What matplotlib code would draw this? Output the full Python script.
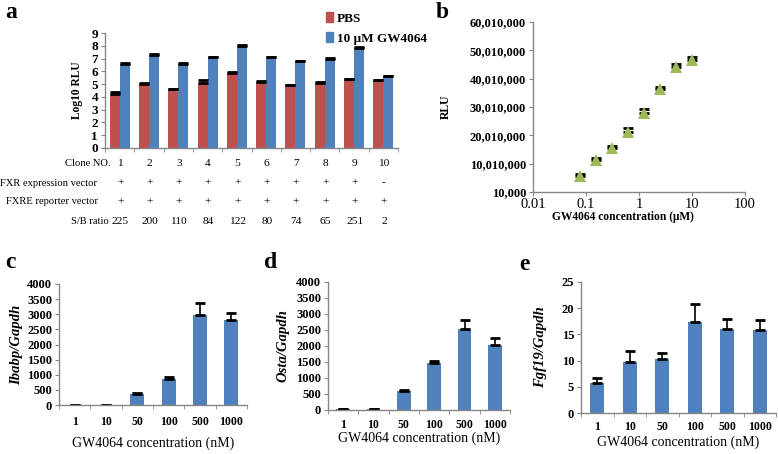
import matplotlib
matplotlib.use("Agg")
import matplotlib.pyplot as plt
import numpy as np
from matplotlib.patches import Patch
import matplotlib.transforms as mtransforms

plt.rcParams['font.family'] = ['Liberation Serif', 'DejaVu Serif']

# ---------------- data ----------------
clones = ['1', '2', '3', '4', '5', '6', '7', '8', '9', '10']
pbs = [4.25, 5.0, 4.6, 5.05, 5.9, 5.2, 4.9, 5.1, 5.4, 5.3]
pbs_err = [0.15, 0.05, 0.05, 0.3, 0.05, 0.05, 0.05, 0.05, 0.03, 0.05]
gw = [6.6, 7.3, 6.6, 7.1, 8.0, 7.1, 6.8, 7.0, 7.85, 5.6]
gw_err = [0.04, 0.04, 0.04, 0.04, 0.03, 0.04, 0.04, 0.04, 0.04, 0.04]
fxr_expr = ['+', '+', '+', '+', '+', '+', '+', '+', '+', '-']
fxre_rep = ['+', '+', '+', '+', '+', '+', '+', '+', '+', '+']
sb_ratio = ['225', '200', '110', '84', '122', '80', '74', '65', '251', '2']

b_conc = [0.078125, 0.15625, 0.3125, 0.625, 1.25, 2.5, 5, 10]
b_rlu = [5.5e6, 11.3e6, 15.5e6, 21.3e6, 28.0e6, 36.3e6, 44.0e6, 46.5e6]
b_err = [0.8e6, 0.8e6, 0.8e6, 1.2e6, 1.2e6, 0.8e6, 1.3e6, 1.3e6]
b_yticks = [10000, 10010000, 20010000, 30010000, 40010000, 50010000, 60010000]

conc_labels = ['1', '10', '50', '100', '500', '1000']
ibabp = [2, 2, 355, 865, 2960, 2800]
ibabp_err = [0, 0, 30, 60, 400, 235]
osta = [30, 20, 595, 1480, 2520, 2030]
osta_err = [5, 5, 30, 60, 280, 230]
fgf19 = [5.8, 9.7, 10.3, 17.3, 16.1, 15.9]
fgf19_err = [0.9, 2.2, 1.1, 3.5, 1.8, 1.8]

RED = '#C0504D'
BLUE = '#4F81BD'
GREEN = '#9BBB59'
SPINE = '#868686'

W, H = 778, 454
fig = plt.figure(figsize=(W / 100, H / 100), dpi=100)


def ax_px(l, r, t, b):
    return fig.add_axes([l / W, 1 - b / H, (r - l) / W, (b - t) / H])


def style(ax):
    for s in ['top', 'right']:
        ax.spines[s].set_visible(False)
    for s in ['left', 'bottom']:
        ax.spines[s].set_color(SPINE)
        ax.spines[s].set_linewidth(1.0)
    ax.tick_params(which='both', color=SPINE, direction='out')


# ---------------- panel a ----------------
axa = ax_px(105, 398, 33, 148)
style(axa)
x = np.arange(len(clones))
bw = 0.34
axa.bar(x - bw / 2, pbs, bw, color=RED, linewidth=0)
axa.bar(x + bw / 2, gw, bw, color=BLUE, linewidth=0)
axa.errorbar(x - bw / 2, pbs, yerr=[np.zeros(len(pbs)), pbs_err], fmt='none',
             ecolor='black', elinewidth=1.2, capsize=3.3, capthick=2)
axa.errorbar(x + bw / 2, gw, yerr=[np.zeros(len(gw)), gw_err], fmt='none',
             ecolor='black', elinewidth=1.2, capsize=3.3, capthick=2)
axa.set_xlim(-0.5, len(clones) - 0.5)
axa.set_ylim(0, 9)
axa.set_yticks(range(0, 10))
axa.set_xticks([])
axa.set_xticks(np.arange(-0.5, len(clones)), minor=True)
axa.tick_params(axis='x', which='minor', length=3)
axa.tick_params(axis='y', length=3, labelsize=9.5, pad=2)
for lbl in axa.get_yticklabels():
    lbl.set_fontweight('bold')
axa.set_ylabel('Log10 RLU', fontsize=8.3, fontweight='bold')
axa.yaxis.set_label_coords(-0.075, 0.5)

trans = mtransforms.blended_transform_factory(axa.transData, fig.transFigure)
rows = [('Clone NO.', clones, 163, 110),
        ('FXR expression vector', fxr_expr, 183, 97),
        ('FXRE reporter vector', fxre_rep, 202, 98),
        ('S/B ratio', sb_ratio, 222, 109)]
for title, vals, ypx, xend in rows:
    fig.text(xend / W, 1 - ypx / H, title, ha='right', va='center', fontsize=7.6)
    for i, v in enumerate(vals):
        fig.text(i + 0.02, 1 - ypx / H, v, transform=trans, ha='center',
                 va='center', fontsize=8.2)

fig.legend(handles=[Patch(color=RED, label='PBS'),
                    Patch(color=BLUE, label='10 \u03bcM GW4064')],
           loc='upper left', bbox_to_anchor=(317 / W, 1 - 3 / H), frameon=False,
           handlelength=0.55, handleheight=0.8, handletextpad=0.25,
           labelspacing=0.55, prop={'size': 9.5, 'weight': 'bold'},
           borderpad=0.2)

# ---------------- panel b ----------------
axb = ax_px(533, 745, 22, 192)
style(axb)
axb.set_xscale('log')
axb.errorbar(b_conc, b_rlu, yerr=[np.zeros(len(b_err)), b_err], fmt='none',
             ecolor='black', elinewidth=1.2, capsize=3.5, capthick=2, zorder=2)
axb.plot(b_conc, b_rlu, linestyle='none', marker='^', markersize=9,
         color=GREEN, markeredgewidth=0, zorder=3)
axb.set_xlim(0.01, 100)
axb.set_ylim(10000, 60010000)
axb.set_yticks(b_yticks)
axb.set_yticklabels([f'{v:,}' for v in b_yticks])
axb.set_xticks([0.01, 0.1, 1, 10, 100])
axb.set_xticklabels(['0.01', '0.1', '1', '10', '100'])
axb.xaxis.set_minor_locator(matplotlib.ticker.NullLocator())
axb.tick_params(axis='y', length=3, labelsize=9, pad=2)
axb.tick_params(axis='x', length=3, labelsize=10.5, pad=1)
for lbl in axb.get_yticklabels():
    lbl.set_fontweight('bold')
axb.set_ylabel('RLU', fontsize=8.5, fontweight='bold')
axb.yaxis.set_label_coords(-0.385, 0.5)
axb.set_xlabel('GW4064 concentration (\u03bcM)', fontsize=8.3, fontweight='bold')
axb.xaxis.set_label_coords(0.425, -0.112)


# ---------------- panels c, d, e ----------------
def bar_panel(box, vals, errs, ymax, ystep, ylabel, ylx, xlab_y, tick_pad):
    ax = ax_px(*box)
    style(ax)
    xi = np.arange(len(conc_labels))
    ax.bar(xi, vals, 0.44, color=BLUE, linewidth=0)
    ax.errorbar(xi, vals, yerr=[np.zeros(len(errs)), errs], fmt='none',
                ecolor='black', elinewidth=1.2, capsize=3.8, capthick=2)
    ax.set_xlim(-0.5, len(conc_labels) - 0.5)
    ax.set_ylim(0, ymax)
    ax.set_yticks(np.arange(0, ymax + ystep / 2, ystep))
    ax.set_xticks(xi)
    ax.set_xticklabels(conc_labels)
    ax.set_xticks(np.arange(-0.5, len(conc_labels)), minor=True)
    ax.tick_params(axis='x', which='major', length=0, labelsize=8.5, pad=tick_pad)
    ax.tick_params(axis='x', which='minor', length=3)
    ax.tick_params(axis='y', length=3, labelsize=9, pad=2)
    for lbl in ax.get_yticklabels() + ax.get_xticklabels():
        lbl.set_fontweight('bold')
    ax.set_ylabel(ylabel, fontsize=10.5, fontweight='bold', style='italic')
    ax.yaxis.set_label_coords(ylx, 0.5)
    ax.set_xlabel('GW4064 concentration (nM)', fontsize=10)
    ax.xaxis.set_label_coords(0.5, xlab_y)
    return ax


bar_panel((59, 247, 284, 405), ibabp, ibabp_err, 4000, 500, 'Ibabp/Gapdh',
          -0.19, -0.26, 8)
bar_panel((328, 510, 282, 410), osta, osta_err, 4000, 500, 'Osta/Gapdh',
          -0.21, -0.165, 6.5)
bar_panel((581, 776, 282, 413), fgf19, fgf19_err, 25, 5, 'Fgf19/Gapdh',
          -0.175, -0.175, 5.5)

# panel letters
for letter, xp, yp in [('a', 5, 12), ('b', 436, 12), ('c', 5, 262),
                       ('d', 264, 262), ('e', 519, 264)]:
    fig.text(xp / W, 1 - yp / H, letter, fontsize=17, fontweight='bold',
             ha='left', va='center')

fig.savefig('out.png', dpi=100)
